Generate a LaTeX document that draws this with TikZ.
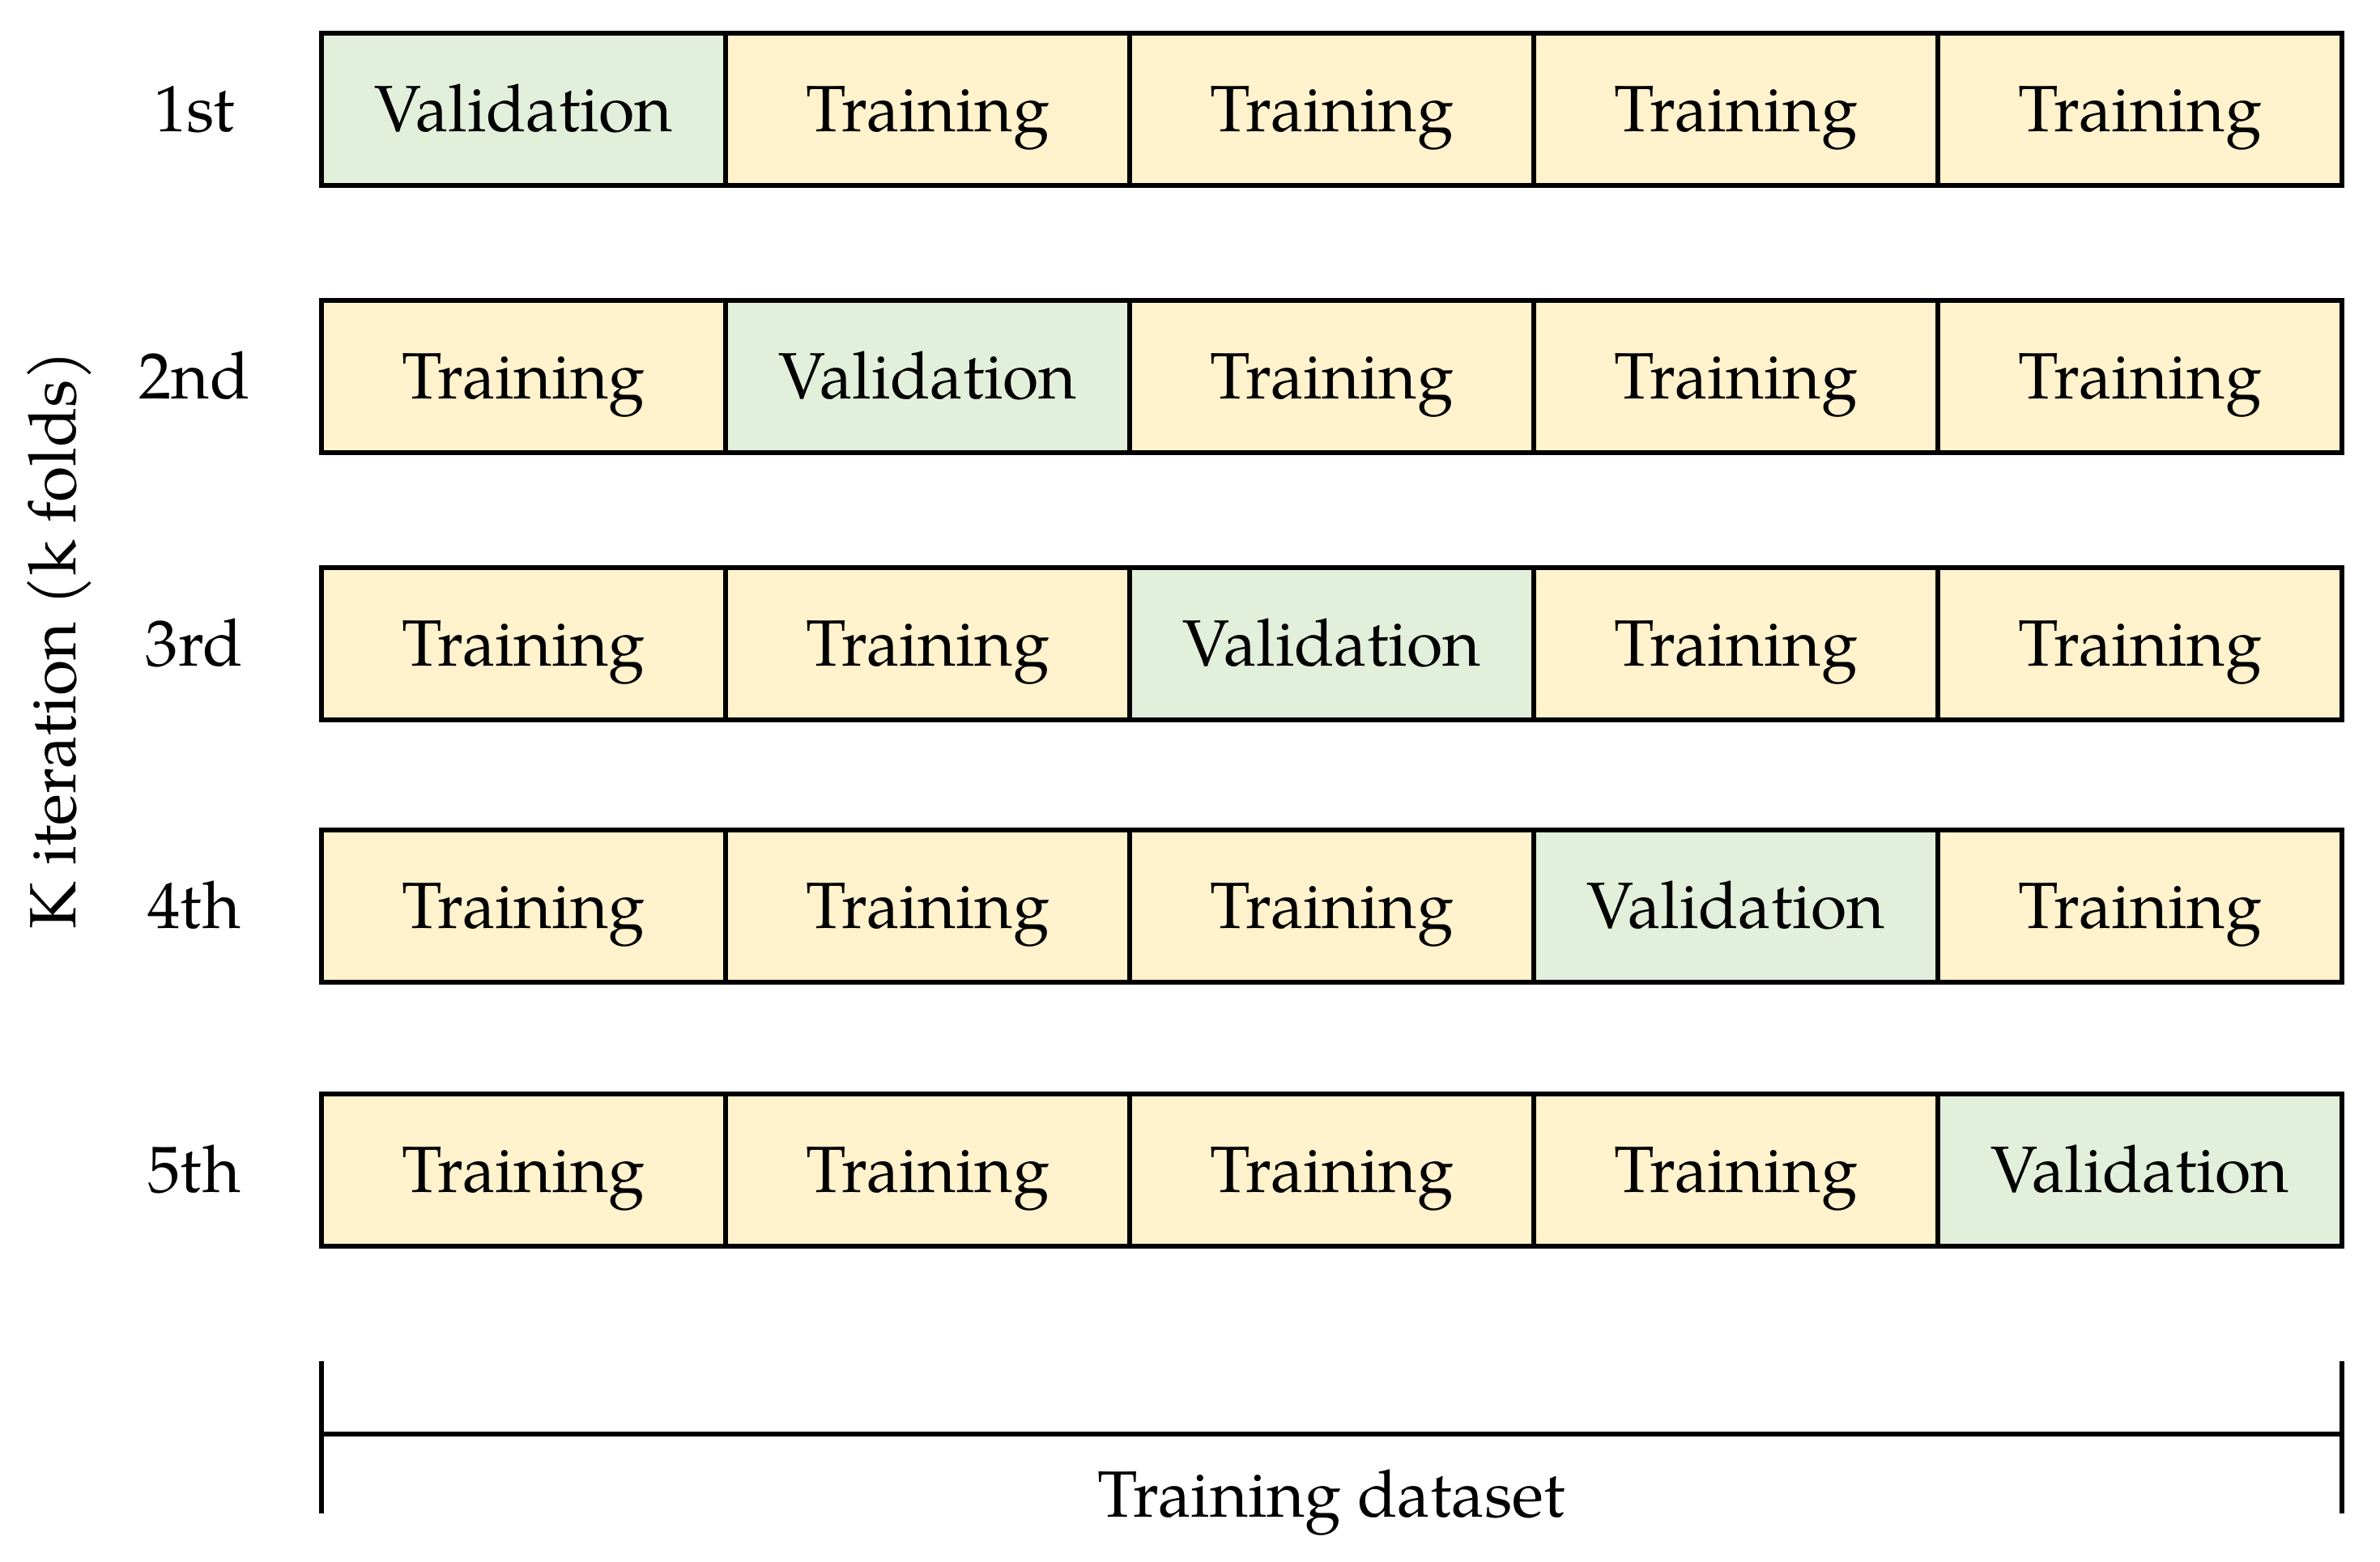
\documentclass[tikz,border=0pt]{standalone}
\usepackage{fontspec}
\setmainfont{TeX Gyre Pagella}
\definecolor{trainc}{HTML}{FFF2CC}
\definecolor{valc}{HTML}{E2EFDA}
\begin{document}
\begin{tikzpicture}[x=1cm,y=1cm,
  txtfont/.style={font=\fontsize{23}{27}\selectfont},
  fold/.style={draw=black, line width=1.5pt, minimum width=4.99cm, minimum height=1.88cm,
    inner sep=0pt, text height=15.9pt, text depth=0pt, txtfont},
  lbl/.style={inner sep=0pt, text height=15.9pt, text depth=0pt, txtfont},
  brk/.style={draw=black, line width=1.5pt}]
\useasboundingbox (0,0) rectangle (29.39,-19.28);
\foreach \r/\ord/\yc in {1/1st/1.35, 2/2nd/4.65, 3/3rd/7.95, 4/4th/11.19, 5/5th/14.45} {
  \node[lbl] (lab\r) at (2.40,-\yc) {\ord};
  \foreach \c in {1,...,5} {
    \ifnum\c=\r \def\col{valc}\def\txt{Validation}\else \def\col{trainc}\def\txt{Training}\fi
    \node[fold, fill=\col] (f\r\c) at ({3.97+4.99*(\c-0.5)},-\yc) {\txt};
  }
}
\node[lbl, rotate=90] (klab) at (0.66,-7.90) {K iteration (k folds)};
\coordinate (bl1) at (3.97,-16.81);
\coordinate (bl2) at (3.97,-18.69);
\coordinate (br1) at (28.92,-16.81);
\coordinate (br2) at (28.92,-18.69);
\coordinate (bm1) at (3.97,-17.71);
\coordinate (bm2) at (28.92,-17.71);
\draw[brk] (bl1) -- (bl2);
\draw[brk] (br1) -- (br2);
\draw[brk] (bm1) -- (bm2);
\node[lbl] (ds) at (16.44,-18.46) {Training dataset};
\end{tikzpicture}
\end{document}
